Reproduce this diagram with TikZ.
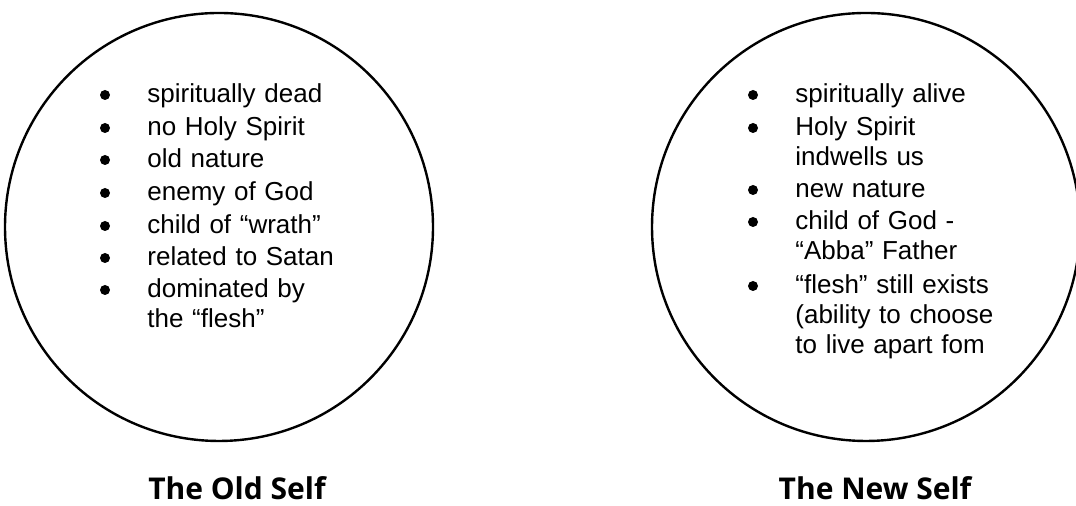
\documentclass[tikz,border=0pt]{standalone}
\usepackage{fontspec}
\setmainfont{Liberation Sans}
\newfontfamily\titlefont{Open Sans}
\usepackage{tikz}

\begin{document}
\begin{tikzpicture}[
        x=0.5pt, y=0.5pt,
        self/.style={draw, line width=1.2pt, circle, minimum size=214pt, inner sep=0pt},
        entry/.style={anchor=base west, inner sep=0pt, text width=112pt, align=left, font=\fontsize{13pt}{15pt}\selectfont},
        bul/.style={circle, fill, inner sep=0pt, minimum size=5pt},
        caption/.style={anchor=base, inner sep=0pt, font=\titlefont\bfseries\fontsize{15pt}{18pt}\selectfont}
    ]
        \useasboundingbox (0,0) rectangle (1076,506);

        \node[self] (old) at (219,279) {};
        \node[self] (new) at (866,279) {};

        % the old self
        \node[entry] (o1) at (147,403) {spiritually dead};
        \node[entry] (o2) at (147,370) {no Holy Spirit};
        \node[entry] (o3) at (147,338) {old nature};
        \node[entry] (o4) at (147,305) {enemy of God};
        \node[entry] (o5) at (147,272) {child of “wrath”};
        \node[entry] (o6) at (147,240) {related to Satan};
        \node[entry] (o7) at (147,208) {dominated by\\the “flesh”};
        \node[bul] at ([shift={(-42,8)}]o1.base west) {};
        \node[bul] at ([shift={(-42,8)}]o2.base west) {};
        \node[bul] at ([shift={(-42,8)}]o3.base west) {};
        \node[bul] at ([shift={(-42,8)}]o4.base west) {};
        \node[bul] at ([shift={(-42,8)}]o5.base west) {};
        \node[bul] at ([shift={(-42,8)}]o6.base west) {};
        \node[bul] at ([shift={(-42,8)}]o7.base west) {};

        % the new self
        \node[entry] (n1) at (795,403) {spiritually alive};
        \node[entry] (n2) at (795,370) {Holy Spirit\\indwells us};
        \node[entry] (n3) at (795,308) {new nature};
        \node[entry] (n4) at (795,276) {child of God -\\“Abba” Father};
        \node[entry] (n5) at (795,212) {“flesh” still exists\\(ability to choose\\to live apart fom};
        \node[bul] at ([shift={(-42,8)}]n1.base west) {};
        \node[bul] at ([shift={(-42,8)}]n2.base west) {};
        \node[bul] at ([shift={(-42,8)}]n3.base west) {};
        \node[bul] at ([shift={(-42,8)}]n4.base west) {};
        \node[bul] at ([shift={(-42,8)}]n5.base west) {};

        \node[caption] (oldname) at (237,6) {The Old Self};
        \node[caption] (newname) at (875,6) {The New Self};
    \end{tikzpicture}
\end{document}
